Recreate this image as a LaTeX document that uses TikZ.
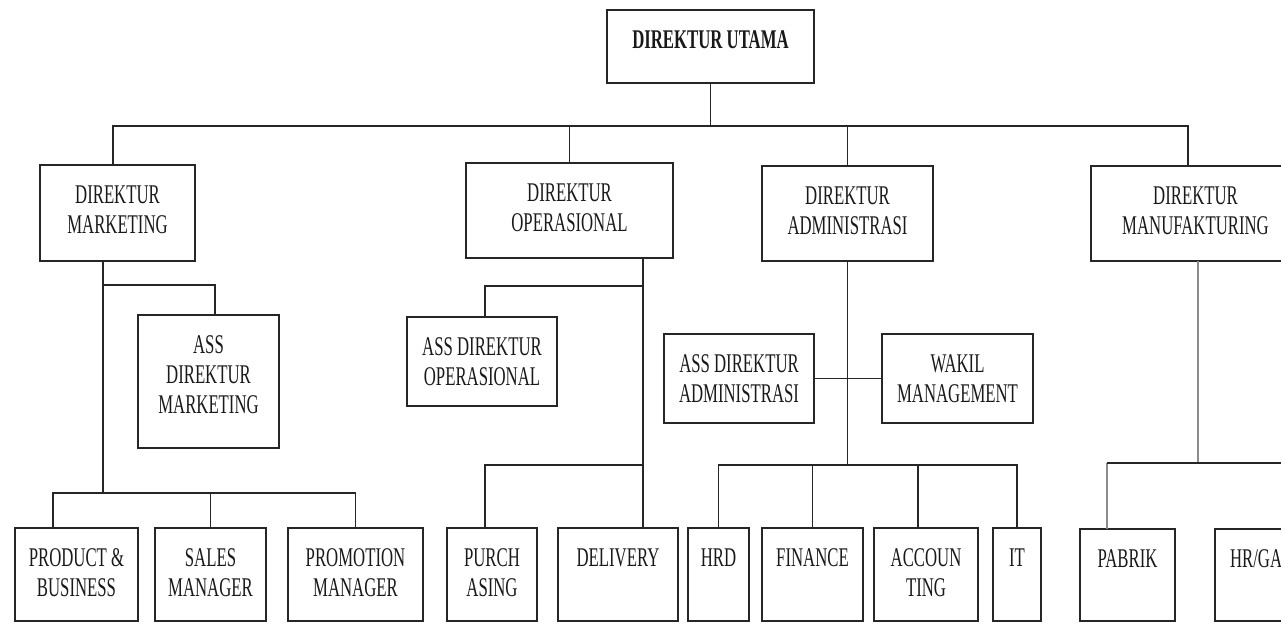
\documentclass[tikz,border=0pt]{standalone}
\usepackage{fontspec}
\setmainfont{Liberation Serif}[FakeStretch=0.62]
\begin{document}
\begin{tikzpicture}[x=1pt,y=-1pt,
  orgbox/.style={draw=black!85,line width=1.4pt,inner sep=0pt,outer sep=0pt,text=black!90,font=\fontsize{27}{30}\selectfont},
  conn/.style={draw=black!85,line width=1.4pt},
  lightconn/.style={draw=black!45,line width=1.1pt}]
\useasboundingbox (0,0) rectangle (1281,623);
\clip (0,0) rectangle (1281,623);
\newcommand\orgbx[6]{%
  \pgfmathsetmacro\bw{#4-#2}\pgfmathsetmacro\bh{#5-#3}%
  \node[orgbox] (#1) at ({(#2+#4)/2},{(#3+#5)/2})
    {\parbox[c][\bh pt][t]{\bw pt}{\centering\rule{0pt}{38.5pt}#6}};}
% boxes
\orgbx{utama}{607}{10}{814}{83}{\textbf{DIREKTUR UTAMA}}
\orgbx{mkt}{40}{165}{195}{261}{DIREKTUR\\MARKETING}
\orgbx{ops}{466}{163}{673}{258}{DIREKTUR\\OPERASIONAL}
\orgbx{adm}{762}{166}{933}{261}{DIREKTUR\\ADMINISTRASI}
\orgbx{man}{1091}{166}{1300}{261}{DIREKTUR\\MANUFAKTURING}
\orgbx{assmkt}{138}{315}{279}{448}{ASS\\DIREKTUR\\MARKETING}
\orgbx{assops}{407}{317}{557}{406}{ASS DIREKTUR\\OPERASIONAL}
\orgbx{assadm}{664}{334}{814}{423}{ASS DIREKTUR\\ADMINISTRASI}
\orgbx{wakil}{882}{334}{1033}{423}{WAKIL\\MANAGEMENT}
\orgbx{prod}{15}{528}{138}{621}{PRODUCT \&\\BUSINESS}
\orgbx{sales}{155}{528}{266}{621}{SALES\\MANAGER}
\orgbx{promo}{288}{528}{423}{621}{PROMOTION\\MANAGER}
\orgbx{purch}{447}{528}{537}{621}{PURCH\\ASING}
\orgbx{deliv}{558}{528}{678}{621}{DELIVERY}
\orgbx{hrd}{688}{528}{749}{621}{HRD}
\orgbx{fin}{762}{528}{863}{621}{FINANCE}
\orgbx{acc}{874}{528}{978}{621}{ACCOUN\\TING}
\orgbx{it}{993}{528}{1041}{621}{IT}
\orgbx{pabrik}{1080}{529}{1175}{621}{PABRIK}
\orgbx{hrga}{1215}{529}{1360}{621}{\makebox[0pt][l]{\hspace{-57.5pt}HR/GA}}
% helper levels
\coordinate (bus) at (0,126);
\coordinate (mbr) at (0,285);
\coordinate (mbus) at (0,493);
\coordinate (obr) at (0,286);
\coordinate (obus) at (0,465);
\coordinate (abus) at (0,465);
\coordinate (nbus) at (0,463);
\coordinate (mv) at ([xshift=-14.5pt]mkt.south);
\coordinate (ov) at ([xshift=73.5pt]ops.south);
\coordinate (mvt) at ([xshift=2.5pt]man.south);
\coordinate (mtop) at ([xshift=-4.5pt]mkt.north);
\coordinate (ntop) at ([xshift=-7.5pt]man.north);
\coordinate (amtop) at ([xshift=6.5pt]assmkt.north);
\coordinate (prtop) at ([xshift=-23.5pt]prod.north);
\coordinate (aotop) at ([xshift=3pt]assops.north);
\coordinate (putop) at ([xshift=-7pt]purch.north);
\coordinate (actop) at ([xshift=-8pt]acc.north);
\coordinate (patop) at ([xshift=-20.5pt]pabrik.north);
% top level
\draw[conn] (utama.south) -- (bus -| utama.south);
\draw[conn] (mtop) |- (bus -| utama.south) -| (ntop);
\draw[conn] (ops.north) -- (bus -| ops.north);
\draw[conn] (adm.north) -- (bus -| adm.north);
% marketing
\draw[conn] (mv) -- (mbus -| mv);
\draw[conn] (mbr -| mv) -| (amtop);
\draw[conn] (prtop) |- (mbus -| mv) -| (promo.north);
\draw[conn] (sales.north) -- (mbus -| sales.north);
% operasional
\draw[conn] (ov) -- (deliv.north -| ov);
\draw[conn] (obr -| ov) -| (aotop);
\draw[conn] (obus -| ov) -| (putop);
% administrasi
\draw[conn] (adm.south) -- (abus -| adm.south);
\draw[conn] (assadm.east) -- (wakil.west);
\draw[conn] (hrd.north) |- (abus -| adm.south) -| (it.north);
\draw[conn] (fin.north) -- (abus -| fin.north);
\draw[conn] (actop) -- (abus -| actop);
% manufakturing
\draw[lightconn] (mvt) -- (nbus -| mvt);
\draw[lightconn] (patop) -- (nbus -| patop);
\draw[conn] (nbus -| patop) -- (nbus -| hrga.north) -- (hrga.north);
\end{tikzpicture}
\end{document}
